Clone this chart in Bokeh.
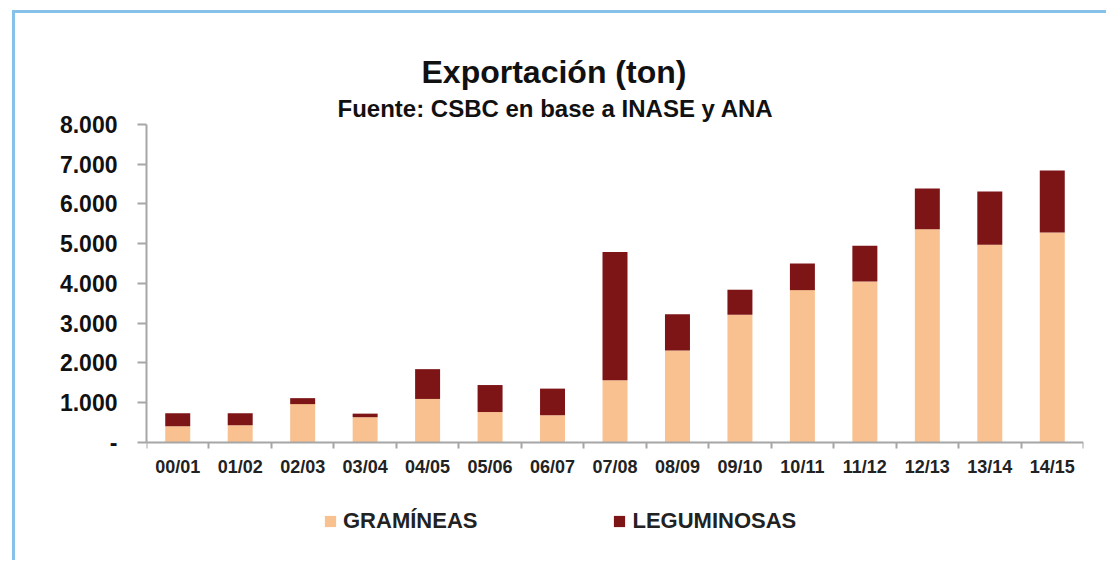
from bokeh.plotting import figure
from bokeh.models import Range1d, FixedTicker, Title, Legend, LegendItem
from bokeh.embed import file_html
from bokeh.resources import INLINE

# ---- data ----
campanas = ["00/01", "01/02", "02/03", "03/04", "04/05", "05/06", "06/07", "07/08",
            "08/09", "09/10", "10/11", "11/12", "12/13", "13/14", "14/15"]
gramineas = [400, 430, 960, 630, 1090, 760, 680, 1560, 2310, 3210, 3830, 4050, 5360, 4970, 5280]
totales = [730, 730, 1110, 720, 1840, 1440, 1350, 4790, 3220, 3840, 4500, 4950, 6390, 6310, 6840]
leguminosas = [t - g for t, g in zip(totales, gramineas)]
y_ticks = [0, 1000, 2000, 3000, 4000, 5000, 6000, 7000, 8000]
y_labels = ["-", "1.000", "2.000", "3.000", "4.000", "5.000", "6.000", "7.000", "8.000"]

COL_G = "#F9C18F"
COL_L = "#7D1416"
AXIS = "#A6A6A6"
FONT = "Liberation Sans"

n = len(campanas)
centers = [i + 0.5 for i in range(n)]
source = dict(x=centers, gram=gramineas, leg=leguminosas, cat=campanas)

# frame extends below zero so that the legend can sit inside it
p = figure(width=1094, height=550, x_range=Range1d(0, n), y_range=Range1d(-2600, 8000),
           output_backend="svg", toolbar_location=None, title=None,
           min_border_left=131, min_border_right=26, min_border_top=111, min_border_bottom=18)
p.styles = {"border-top": "3px solid #85C1E9", "border-left": "3px solid #85C1E9",
            "margin-left": "12px", "margin-top": "10px"}

r = p.vbar_stack(["gram", "leg"], x="x", width=0.4, source=source,
                 color=[COL_G, COL_L], line_color=None)

p.xgrid.visible = False
p.ygrid.visible = False
p.outline_line_color = None

# x axis at y=0: labels at centres, tick marks at category boundaries
xa = p.xaxis[0]
xa.fixed_location = 0
xa.ticker = FixedTicker(ticks=centers, minor_ticks=list(range(n + 1)))
xa.major_label_overrides = {c: lab for c, lab in zip(centers, campanas)}
xa.major_tick_line_color = None
xa.major_tick_out = 0
xa.major_tick_in = 0
xa.minor_tick_line_color = AXIS
xa.minor_tick_line_width = 2
xa.minor_tick_out = 6
xa.minor_tick_in = 0
xa.axis_line_color = AXIS
xa.axis_line_width = 2
xa.major_label_standoff = 9
xa.major_label_text_font = FONT
xa.major_label_text_font_style = "bold"
xa.major_label_text_font_size = "18px"
xa.major_label_text_color = "#222222"

ya = p.yaxis[0]
ya.bounds = (0, 8000)
ya.ticker = FixedTicker(ticks=y_ticks)
ya.major_label_overrides = {t: lab for t, lab in zip(y_ticks, y_labels)}
ya.minor_tick_line_color = None
ya.major_tick_line_color = AXIS
ya.major_tick_line_width = 2
ya.major_tick_out = 9
ya.major_tick_in = 0
ya.axis_line_color = AXIS
ya.axis_line_width = 2
ya.major_label_standoff = 20
ya.major_label_text_font = FONT
ya.major_label_text_font_style = "bold"
ya.major_label_text_font_size = "23px"
ya.major_label_text_color = "#111111"

p.add_layout(Title(text="Fuente: CSBC en base a INASE y ANA", align="left", offset=191,
                   text_font=FONT, text_font_style="bold",
                   text_font_size="24px", text_color="#111111", standoff=6), "above")
p.add_layout(Title(text="Exportación (ton)", align="left", offset=275,
                   text_font=FONT, text_font_style="bold",
                   text_font_size="32px", text_color="#111111", standoff=0), "above")

lg = Legend(items=[LegendItem(label="GRAMÍNEAS", renderers=[r[0]]),
                   LegendItem(label="LEGUMINOSAS", renderers=[r[1]])],
            location=(177, 11), orientation="horizontal")
lg.padding = 0
lg.margin = 0
lg.spacing = 135
lg.border_line_color = None
lg.background_fill_alpha = 0
lg.glyph_width = 14
lg.glyph_height = 14
lg.label_height = 20
lg.label_standoff = 6
lg.label_text_font = FONT
lg.label_text_font_style = "bold"
lg.label_text_font_size = "22px"
lg.label_text_color = "#222222"
p.add_layout(lg, "center")

open("out.html", "w").write(file_html(p, INLINE))
